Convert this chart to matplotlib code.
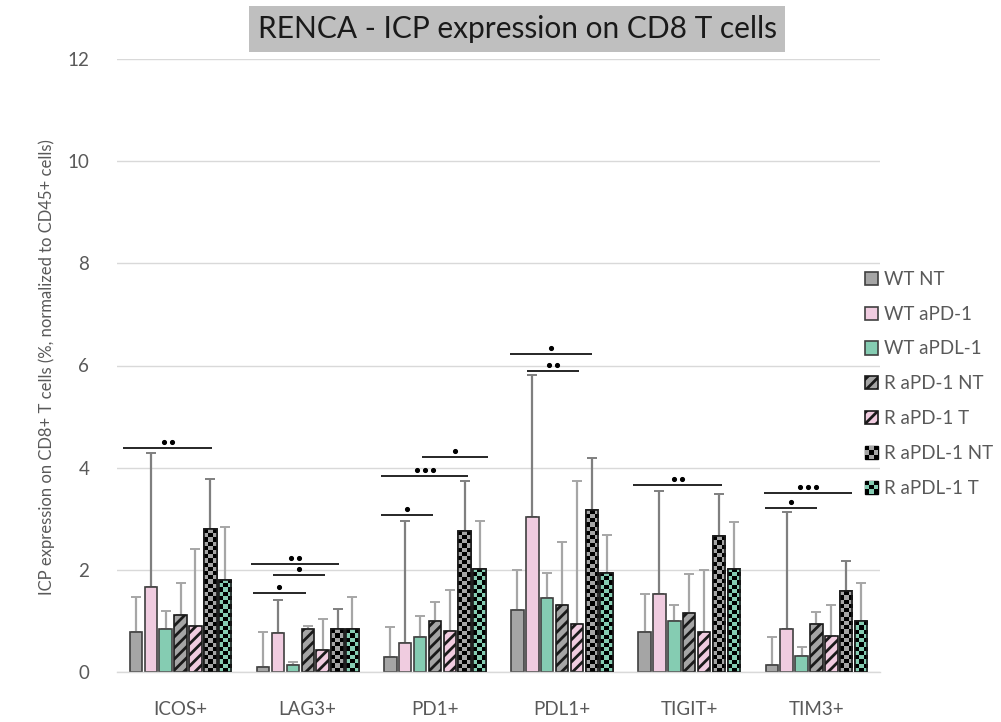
#!/usr/bin/env python3
"""
RENCA: ICP expression on CD8 T cells, grouped bars with SD and significance.
"""

import numpy as np
import matplotlib
matplotlib.use('Agg')
import matplotlib.pyplot as plt
from matplotlib.patches import Rectangle
from matplotlib.legend_handler import HandlerBase
from matplotlib.transforms import offset_copy

plt.rcParams['font.family'] = ['Lato', 'DejaVu Sans']
plt.rcParams['hatch.linewidth'] = 2.0

markers = ['ICOS+', 'LAG3+', 'PD1+', 'PDL1+', 'TIGIT+', 'TIM3+']
groups = ['WT NT', 'WT aPD-1', 'WT aPDL-1', 'R aPD-1 NT', 'R aPD-1 T', 'R aPDL-1 NT', 'R aPDL-1 T']

# mean per group (rows) for each marker (columns)
wt_nt = [0.79, 0.10, 0.29, 1.21, 0.79, 0.14]
wt_apd1 = [1.66, 0.76, 0.57, 3.04, 1.53, 0.84]
wt_apdl1 = [0.84, 0.14, 0.68, 1.45, 0.99, 0.32]
r_apd1_nt = [1.12, 0.84, 0.99, 1.32, 1.15, 0.94]
r_apd1_t = [0.91, 0.43, 0.81, 0.94, 0.79, 0.71]
r_apdl1_nt = [2.79, 0.84, 2.76, 3.17, 2.66, 1.58]
r_apdl1_t = [1.81, 0.84, 2.02, 1.94, 2.02, 0.99]

# standard deviations, same layout
sd_wt_nt = [0.68, 0.68, 0.60, 0.79, 0.74, 0.54]
sd_wt_apd1 = [2.63, 0.64, 2.39, 2.77, 2.02, 2.29]
sd_wt_apdl1 = [0.35, 0.05, 0.42, 0.49, 0.33, 0.16]
sd_r_apd1_nt = [0.62, 0.07, 0.38, 1.23, 0.76, 0.23]
sd_r_apd1_t = [1.49, 0.61, 0.80, 2.79, 1.21, 0.61]
sd_r_apdl1_nt = [0.99, 0.40, 0.97, 1.01, 0.82, 0.59]
sd_r_apdl1_t = [1.02, 0.63, 0.94, 0.74, 0.92, 0.75]

means = [wt_nt, wt_apd1, wt_apdl1, r_apd1_nt, r_apd1_t, r_apdl1_nt, r_apdl1_t]
sds = [sd_wt_nt, sd_wt_apd1, sd_wt_apdl1, sd_r_apd1_nt, sd_r_apd1_t, sd_r_apdl1_nt, sd_r_apdl1_t]

# significance brackets: marker, first bar, last bar, height, stars
sig_marker = ['ICOS+', 'LAG3+', 'LAG3+', 'LAG3+', 'PD1+', 'PD1+', 'PD1+', 'PDL1+', 'PDL1+', 'TIGIT+', 'TIM3+', 'TIM3+']
sig_from = [-0.85, -0.8, 0.65, -0.7, -0.65, -0.65, 2.1, -0.5, 0.65, -0.75, -0.5, -0.45]
sig_to = [5.1, 5.1, 4.15, 2.9, 2.85, 5.25, 6.6, 5.0, 4.15, 5.2, 5.4, 3.05]
sig_y = [4.38, 2.11, 1.89, 1.55, 3.07, 3.84, 4.20, 6.23, 5.89, 3.67, 3.50, 3.22]
sig_stars = [2, 2, 1, 1, 1, 3, 1, 1, 2, 2, 3, 1]

GREY = '#a5a5a5'
PINK = '#f0cce0'
TEAL = '#85ccb2'
fills = [GREY, PINK, TEAL, GREY, PINK, GREY, TEAL]
hatches = [None, None, None, '///', '///', 'check', 'check']
err_colors = ['#a6a6a6', '#7f7f7f', '#a6a6a6', '#a6a6a6', '#a6a6a6', '#7f7f7f', '#a6a6a6']
TEXT = '#595959'

pitch = 0.117
width = 0.098
cell_px = 4.2


def checker_array(nrows, ncols, color):
    rgb = np.array(matplotlib.colors.to_rgb(color))
    img = np.zeros((nrows, ncols, 3))
    for r in range(nrows):
        for c in range(ncols):
            if (r + c) % 2 == 0:
                img[r, c] = rgb
    return img


def fill_checker(ax, bar, color):
    x, y0 = bar.get_x(), bar.get_y()
    w, h = bar.get_width(), bar.get_height()
    p0 = ax.transData.transform((x, y0))
    p1 = ax.transData.transform((x + w, y0 + h))
    nrows = max(1, int(round((p1[1] - p0[1]) / cell_px)))
    ncols = max(1, int(round((p1[0] - p0[0]) / cell_px)))
    im = ax.imshow(checker_array(nrows, ncols, color), extent=(x, x + w, y0, y0 + h),
                   aspect='auto', interpolation='nearest', zorder=2.5, origin='lower')
    im.set_clip_path(bar)
    ax.add_patch(Rectangle((x, y0), w, h, fill=False, edgecolor='#1a1a1a',
                           linewidth=1.2, zorder=2.6))


class CheckerHandler(HandlerBase):
    def __init__(self, color):
        super().__init__()
        self.color = color

    def create_artists(self, legend, orig_handle, xdescent, ydescent, width, height, fontsize, trans):
        s = min(width, height)
        x0 = -xdescent + (width - s) / 2
        y0 = -ydescent + (height - s) / 2
        arts = [Rectangle((x0, y0), s, s, facecolor='black', edgecolor='black', lw=1.0, transform=trans)]
        q = s / 3
        for r in range(3):
            for c in range(3):
                if (r + c) % 2 == 1:
                    arts.append(Rectangle((x0 + c * q, y0 + r * q), q, q, facecolor=self.color,
                                          edgecolor='none', transform=trans))
        return arts


fig = plt.figure(figsize=(10.01, 7.22), dpi=100)
ax = fig.add_axes([117 / 1001, 1 - 672 / 722, 763 / 1001, 613 / 722])
ax.set_xlim(-0.5, len(markers) - 0.5)
ax.set_ylim(0, 12)

x = np.arange(len(markers))
handles = []
for i in range(len(groups)):
    pos = x + (i - 3) * pitch
    m = np.array(means[i])
    sd = np.array(sds[i])
    hatch = hatches[i] if hatches[i] in ('///',) else None
    if hatches[i] == 'check':
        bars = ax.bar(pos, m, width, color='black', edgecolor='#1a1a1a', linewidth=1.2,
                      zorder=2, label=groups[i])
        for b in bars:
            fill_checker(ax, b, fills[i])
    else:
        edge = '#404040' if hatch is None else '#1a1a1a'
        bars = ax.bar(pos, m, width, color=fills[i], edgecolor=edge, linewidth=1.2,
                      hatch=hatch, zorder=2, label=groups[i])
    ax.errorbar(pos, m, yerr=[np.zeros_like(sd), sd], fmt='none', ecolor=err_colors[i],
                elinewidth=1.6, capsize=3.8, capthick=1.4, zorder=1.5)
    handles.append(bars)

# significance brackets, star dots spaced 8 px apart above the line
for name, a, b, yv, n in zip(sig_marker, sig_from, sig_to, sig_y, sig_stars):
    g = markers.index(name)
    x0 = g + (a - 3) * pitch
    x1 = g + (b - 3) * pitch
    ax.plot([x0, x1], [yv, yv], color='#262626', lw=1.4, zorder=3, solid_capstyle='butt')
    xc = (x0 + x1) / 2
    for k in range(n):
        dx = (k - (n - 1) / 2) * 8
        tr = offset_copy(ax.transData, fig=fig, x=dx, y=6, units='dots')
        ax.plot([xc], [yv], 'o', color='black', markersize=2.7, transform=tr, zorder=3)

ax.set_ylim(0, 12)
ax.set_xlim(-0.5, len(markers) - 0.5)
ax.set_yticks(np.arange(0, 13, 2))
ax.set_xticks(x)
ax.set_xticklabels(markers)
ax.tick_params(axis='both', length=0, colors=TEXT, labelsize=13.5)
ax.tick_params(axis='x', pad=21)
ax.tick_params(axis='y', pad=20)
ax.grid(axis='y', color='#d9d9d9', linewidth=1.0, zorder=0)
ax.set_axisbelow(True)
for side in ['top', 'right', 'left']:
    ax.spines[side].set_visible(False)
ax.spines['bottom'].set_color('#d9d9d9')
ax.spines['bottom'].set_linewidth(1.0)

fig.text(47 / 1001, 1 - 367 / 722, 'ICP expression on CD8+ T cells (%, normalized to CD45+ cells)',
         rotation=90, ha='center', va='center', fontsize=12, color='#595959')

fig.text(517 / 1001, 1 - 29 / 722, 'RENCA - ICP expression on CD8 T cells', ha='center', va='center',
         fontsize=21.5, color='#1a1a1a',
         bbox=dict(boxstyle='square,pad=0.3', facecolor='#bfbfbf', edgecolor='none'))

handler_map = {handles[5]: CheckerHandler(GREY), handles[6]: CheckerHandler(TEAL)}
leg = fig.legend(handles, groups, loc='upper left', bbox_to_anchor=(848 / 1001, 1 - 254 / 722),
                 frameon=False, fontsize=13.5, handlelength=0.7, handleheight=0.7,
                 handletextpad=0.3, labelspacing=0.95, handler_map=handler_map)
for t in leg.get_texts():
    t.set_color(TEXT)

plt.savefig('out.png', dpi=100)
plt.close()
